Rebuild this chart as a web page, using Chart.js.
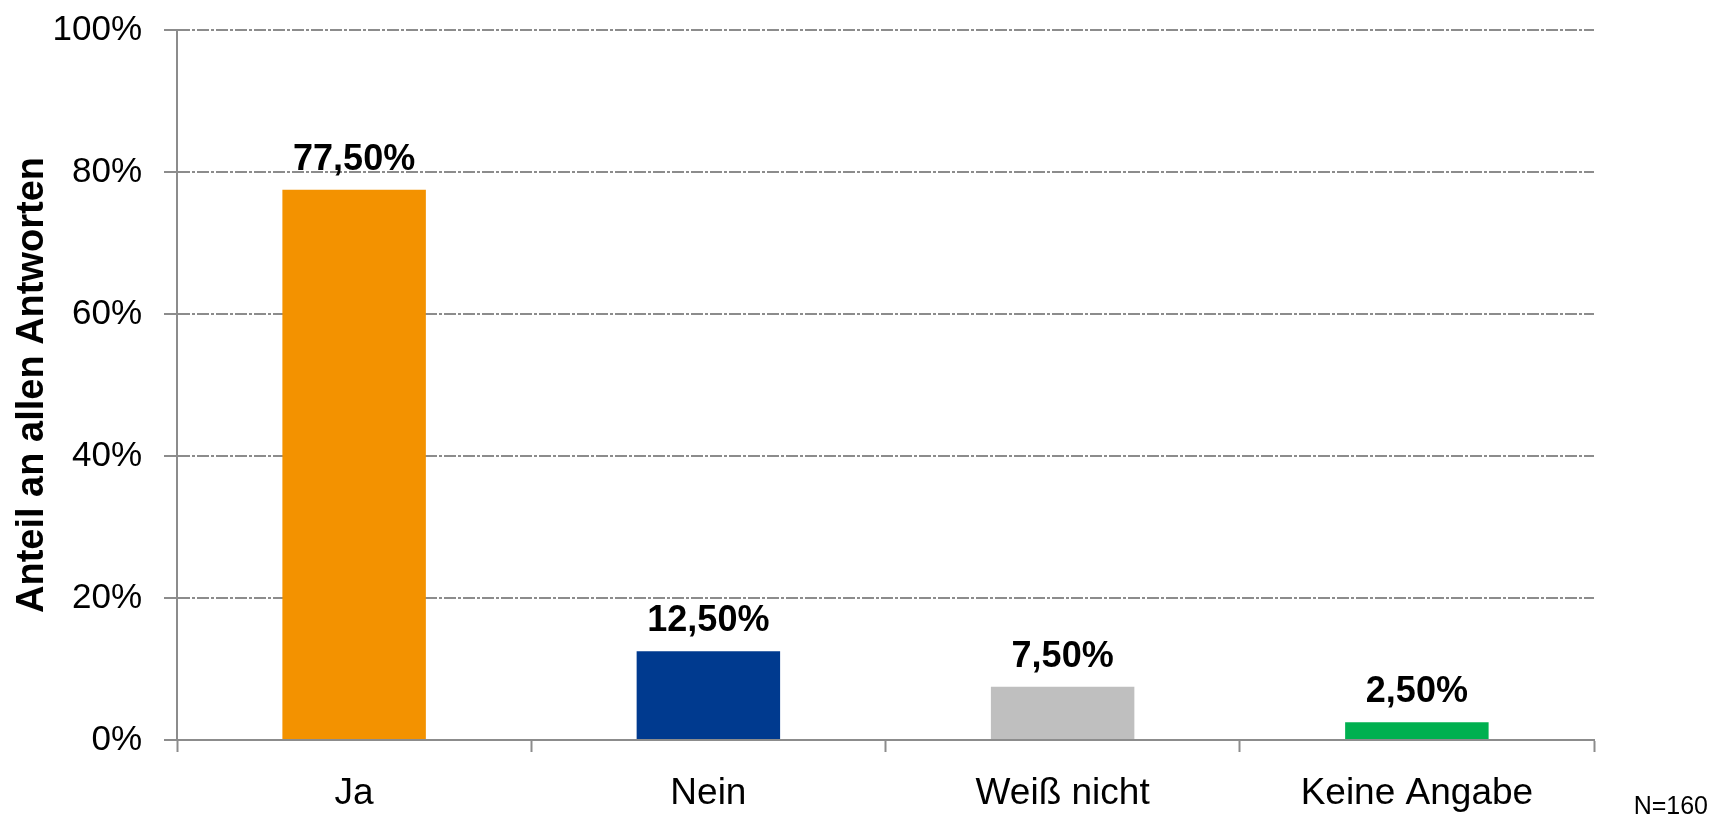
<!DOCTYPE html>
<html>
<head>
<meta charset="utf-8">
<script src="https://cdn.jsdelivr.net/npm/chart.js@4/dist/chart.umd.min.js"></script>
<style>
    body { margin: 0; background: #fff; }
    #wrap { width: 1718px; height: 816px; position: relative; }
</style>
</head>
<body>
<div id="wrap"><canvas id="answersChart"></canvas></div>
<script>
const categories = ['Ja', 'Nein', 'Weiß nicht', 'Keine Angabe'];
const shares = [77.5, 12.5, 7.5, 2.5];
const shareLabels = ['77,50%', '12,50%', '7,50%', '2,50%'];
const barColors = ['#F39200', '#003A8F', '#BFBFBF', '#00B050'];
const yTickLabels = ['0%', '20%', '40%', '60%', '80%', '100%'];
const yTitle = 'Anteil an allen Antworten';
const sampleNote = 'N=160';

const FONT = "'Liberation Sans', Arial, sans-serif";

// value labels above the bars + sample size bottom right
const barLabels = {
    id: 'barLabels',
    afterDatasetsDraw(chart) {
        const ctx = chart.ctx;
        const meta = chart.getDatasetMeta(0);
        ctx.save();
        ctx.fillStyle = '#000';
        ctx.font = 'bold 36px ' + FONT;
        ctx.textAlign = 'center';
        ctx.textBaseline = 'alphabetic';
        meta.data.forEach((bar, i) => {
            ctx.fillText(shareLabels[i], bar.x, bar.y - 20);
        });
        ctx.font = '25px ' + FONT;
        ctx.textAlign = 'right';
        ctx.fillText(sampleNote, 1708, 814);
        ctx.restore();
    }
};

new Chart(document.getElementById('answersChart').getContext('2d'), {
    type: 'bar',
    data: {
        labels: categories,
        datasets: [{
            data: shares,
            backgroundColor: barColors,
            borderWidth: 0,
            barPercentage: 0.405,
            categoryPercentage: 1.0
        }]
    },
    options: {
        responsive: true,
        maintainAspectRatio: false,
        animation: false,
        layout: { padding: { left: 0, top: 30, right: 124, bottom: 0 } },
        plugins: {
            legend: { display: false },
            tooltip: { enabled: false }
        },
        scales: {
            x: {
                afterFit: scale => { scale.height = 76; },
                grid: {
                    offset: true,
                    drawOnChartArea: false,
                    drawTicks: true,
                    tickLength: 12,
                    tickColor: '#8c8c8c',
                    tickWidth: 2
                },
                border: { color: '#8c8c8c', width: 2 },
                ticks: {
                    color: '#000',
                    padding: 20,
                    maxRotation: 0,
                    font: { family: FONT, size: 37 }
                }
            },
            y: {
                min: 0,
                max: 100,
                afterFit: scale => {
                    scale.width = 177;
                    scale.paddingTop = 0;
                    scale.paddingBottom = 0;
                },
                grid: {
                    color: '#8c8c8c',
                    lineWidth: 2,
                    tickLength: 13,
                    tickColor: '#8c8c8c',
                    tickWidth: 2
                },
                border: { color: '#8c8c8c', width: 2, dash: [12, 2, 3, 2] },
                ticks: {
                    stepSize: 20,
                    color: '#000',
                    padding: 22,
                    font: { family: FONT, size: 35 },
                    callback: (v, i) => yTickLabels[i]
                },
                title: {
                    display: true,
                    text: yTitle,
                    color: '#000',
                    padding: { top: 10, bottom: 0 },
                    font: { family: FONT, size: 38, weight: 'bold' }
                }
            }
        }
    },
    plugins: [barLabels]
});
</script>
</body>
</html>
